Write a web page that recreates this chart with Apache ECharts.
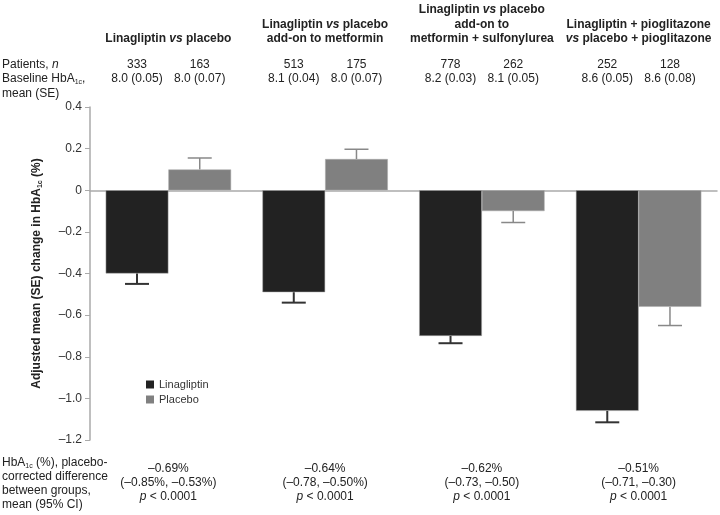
<!DOCTYPE html>
<html>
<head>
<meta charset="utf-8">
<script src="https://cdn.jsdelivr.net/npm/echarts@6/dist/echarts.min.js"></script>
<style>
  html, body { margin: 0; padding: 0; background: #fff; }
  #main { width: 720px; height: 515px; }
</style>
</head>
<body>
<div id="main"></div>
<script>
// group headers (rich text, {i|..} = italic)
var groupTitles = [
    '{b|Linagliptin }{i|vs}{b| placebo}',
    '{b|Linagliptin }{i|vs}{b| placebo}\n{b|add-on to metformin}',
    '{b|Linagliptin }{i|vs}{b| placebo}\n{b|add-on to}\n{b|metformin + sulfonylurea}',
    '{b|Linagliptin + pioglitazone}\n{i|vs}{b| placebo + pioglitazone}'
];
var categories = ['vs placebo', 'add-on metformin', 'add-on metformin + SU', '+ pioglitazone'];

var linN = [333, 513, 778, 252];
var plaN = [163, 175, 262, 128];
var linBase = ['8.0 (0.05)', '8.1 (0.04)', '8.2 (0.03)', '8.6 (0.05)'];
var plaBase = ['8.0 (0.07)', '8.0 (0.07)', '8.1 (0.05)', '8.6 (0.08)'];

var linMean = [-0.40, -0.49, -0.70, -1.06];
var linSE = [0.05, 0.05, 0.035, 0.055];
var plaMean = [0.10, 0.15, -0.10, -0.56];
var plaSE = [0.055, 0.047, 0.055, 0.09];

var diffMean = ['\u20130.69%', '\u20130.64%', '\u20130.62%', '\u20130.51%'];
var diffCI = ['(\u20130.85%, \u20130.53%)', '(\u20130.78, \u20130.50%)', '(\u20130.73, \u20130.50)', '(\u20130.71, \u20130.30)'];

var FONT = 'Liberation Sans, Arial, sans-serif';

var chart = echarts.init(document.getElementById('main'));

// one-sided error bar, drawn outward from the bar end
function errorBars(mean, se, offset, color, width) {
    var data = [];
    for (var i = 0; i < mean.length; i++) {
        data.push([i, mean[i], se[i]]);
    }
    return {
        type: 'custom',
        z: 5,
        silent: true,
        data: data,
        encode: { x: 0, y: 1 },
        renderItem: function(params, api) {
            var v = api.value(1);
            var sign = v < 0 ? -1 : 1;
            var band = api.size([1, 0])[0];
            var p0 = api.coord([api.value(0), v]);
            var p1 = api.coord([api.value(0), v + sign * api.value(2)]);
            var x = p0[0] + offset * band;
            var style = { stroke: color, lineWidth: width };
            return {
                type: 'group',
                children: [
                    { type: 'line', shape: { x1: x, y1: p0[1], x2: x, y2: p1[1] }, style: style },
                    { type: 'line', shape: { x1: x - 12, y1: p1[1], x2: x + 12, y2: p1[1] }, style: style }
                ]
            };
        }
    };
}

var option = {
    backgroundColor: '#fff',
    animation: false,
    textStyle: { fontFamily: FONT },
    grid: { left: 90, right: 3, top: 107, bottom: 75, containLabel: false },
    legend: {
        data: ['Linagliptin', 'Placebo'],
        orient: 'vertical',
        left: 141,
        top: 374,
        icon: 'rect',
        itemWidth: 8,
        itemHeight: 8,
        itemGap: 4,
        itemStyle: { borderWidth: 0 },
        textStyle: { fontSize: 11, color: '#333', fontFamily: FONT }
    },
    xAxis: {
        type: 'category',
        data: categories,
        axisLine: { onZero: true, lineStyle: { color: '#aaa', width: 1.5 } },
        axisTick: { length: 5, lineStyle: { color: '#aaa' } },
        axisLabel: { show: false }
    },
    yAxis: {
        type: 'value',
        min: -1.2,
        max: 0.4,
        interval: 0.2,
        name: '{t|Adjusted mean (SE) change in HbA}{s|1c}{t| (%)}',
        nameLocation: 'middle',
        nameGap: 46,
        nameTextStyle: {
            rich: {
                t: { fontSize: 12, fontWeight: 'bold', color: '#222', lineHeight: 14, fontFamily: FONT },
                s: { fontSize: 7, fontWeight: 'bold', color: '#222', lineHeight: 7, verticalAlign: 'bottom', fontFamily: FONT }
            }
        },
        axisLine: { show: true, lineStyle: { color: '#aaa', width: 1.5 } },
        axisTick: { show: true, length: 5, lineStyle: { color: '#aaa' } },
        splitLine: { show: false },
        axisLabel: {
            fontSize: 12,
            color: '#333',
            margin: 8,
            formatter: function(v) {
                if (Math.abs(v) < 1e-9) return '0';
                return v.toFixed(1).replace('-', '\u2013');
            }
        }
    },
    series: [
        {
            name: 'Linagliptin',
            type: 'bar',
            data: linMean,
            barGap: '0%',
            barCategoryGap: '20%',
            itemStyle: { color: '#222', borderColor: '#aaa', borderWidth: 0.5 }
        },
        {
            name: 'Placebo',
            type: 'bar',
            data: plaMean,
            itemStyle: { color: '#808080', borderColor: '#aaa', borderWidth: 0.5 }
        },
        errorBars(linMean, linSE, -0.2, '#333', 2),
        errorBars(plaMean, plaSE, 0.2, '#888', 1.5)
    ]
};

chart.setOption(option);

// table texts placed over the categories
var graphic = [];

function addText(x, y, text, align, extra) {
    var style = {
        x: x, y: y, text: text,
        fontSize: 12, fill: '#222', fontFamily: FONT,
        align: align || 'center', verticalAlign: 'middle'
    };
    for (var k in extra) style[k] = extra[k];
    graphic.push({ type: 'text', silent: true, style: style });
}

var bandPx = chart.convertToPixel({ xAxisIndex: 0 }, 1) - chart.convertToPixel({ xAxisIndex: 0 }, 0);

for (var i = 0; i < categories.length; i++) {
    var cx = chart.convertToPixel({ xAxisIndex: 0 }, i);
    var lx = cx - 0.2 * bandPx;
    var px = cx + 0.2 * bandPx;

    addText(cx, 46, groupTitles[i], 'center', {
        verticalAlign: 'bottom',
        rich: {
            b: { fontSize: 12, fontWeight: 'bold', lineHeight: 14.5, fill: '#222', fontFamily: FONT },
            i: { fontSize: 12, fontWeight: 'bold', fontStyle: 'italic', lineHeight: 14.5, fill: '#222', fontFamily: FONT }
        }
    });

    addText(lx, 65, String(linN[i]));
    addText(px, 65, String(plaN[i]));
    addText(lx, 79, linBase[i]);
    addText(px, 79, plaBase[i]);

    addText(cx, 469, diffMean[i]);
    addText(cx, 483, diffCI[i]);
    addText(cx, 497, '{i|p}{t| < 0.0001}', 'center', {
        rich: {
            i: { fontSize: 12, fontStyle: 'italic', fill: '#222', fontFamily: FONT },
            t: { fontSize: 12, fill: '#222', fontFamily: FONT }
        }
    });
}

var rowRich = {
    t: { fontSize: 12, lineHeight: 14, fill: '#222', fontFamily: FONT },
    i: { fontSize: 12, lineHeight: 14, fontStyle: 'italic', fill: '#222', fontFamily: FONT },
    s: { fontSize: 7, lineHeight: 7, verticalAlign: 'bottom', fill: '#222', fontFamily: FONT }
};

addText(2, 65, '{t|Patients, }{i|n}', 'left', { rich: rowRich });
addText(2, 79, '{t|Baseline HbA}{s|1c}{t|,}', 'left', { rich: rowRich });
addText(2, 94, '{t|mean (SE)}', 'left', { rich: rowRich });

addText(2, 463, '{t|HbA}{s|1c}{t| (%), placebo-}', 'left', { rich: rowRich });
addText(2, 477, '{t|corrected difference}', 'left', { rich: rowRich });
addText(2, 491, '{t|between groups,}', 'left', { rich: rowRich });
addText(2, 505, '{t|mean (95% CI)}', 'left', { rich: rowRich });

chart.setOption({ graphic: graphic });
</script>
</body>
</html>
